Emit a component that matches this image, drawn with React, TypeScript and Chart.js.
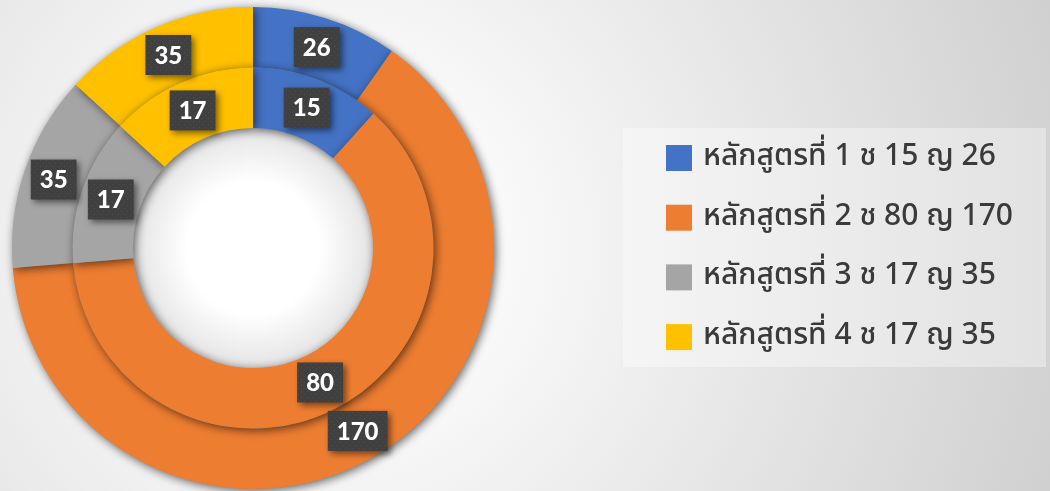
import { useEffect, useRef } from 'react';
import { Chart, registerables } from 'chart.js';

Chart.register(...registerables);

const categories = [
  'หลักสูตรที่ 1 ช 15 ญ 26',
  'หลักสูตรที่ 2 ช 80 ญ 170',
  'หลักสูตรที่ 3 ช 17 ญ 35',
  'หลักสูตรที่ 4 ช 17 ญ 35',
];
const femaleValues = [26, 170, 35, 35];
const maleValues = [15, 80, 17, 17];
const colors = ['#4472C4', '#ED7D31', '#A5A5A5', '#FFC000'];

const LEGEND_FONT = '"Noto Sans Thai", "Noto Sans", "DejaVu Sans", sans-serif';
const LABEL_FONT = 'Lato, "Open Sans", "Noto Sans", sans-serif';

function makePattern(ctx: CanvasRenderingContext2D) {
  const c = document.createElement('canvas');
  c.width = 6;
  c.height = 6;
  const p = c.getContext('2d')!;
  p.fillStyle = '#404040';
  p.fillRect(0, 0, 6, 6);
  p.fillStyle = '#4d4d4d';
  p.fillRect(1, 1, 1, 1);
  p.fillRect(4, 4, 1, 1);
  return ctx.createPattern(c, 'repeat');
}

const backgroundPlugin = {
  id: 'bgPlugin',
  beforeDraw(chart: any) {
    const { ctx, width, height } = chart;
    ctx.save();
    const g = ctx.createRadialGradient(330, 245, 90, 330, 245, 760);
    g.addColorStop(0, '#ffffff');
    g.addColorStop(1, '#d0d0d0');
    ctx.fillStyle = g;
    ctx.fillRect(0, 0, width, height);
    const meta = chart.getDatasetMeta(1);
    const arc: any = meta.data[0];
    if (arc) {
      const r = arc.innerRadius;
      const hg = ctx.createRadialGradient(arc.x, arc.y, r * 0.55, arc.x, arc.y, r);
      hg.addColorStop(0, '#ffffff');
      hg.addColorStop(1, '#e4e4e4');
      ctx.fillStyle = hg;
      ctx.beginPath();
      ctx.arc(arc.x, arc.y, r, 0, Math.PI * 2);
      ctx.fill();
    }
    ctx.restore();
  },
};

const shadowPlugin = {
  id: 'shadowPlugin',
  beforeDatasetDraw(chart: any) {
    const ctx = chart.ctx;
    ctx.save();
    ctx.shadowColor = 'rgba(0,0,0,0.6)';
    ctx.shadowBlur = 10;
    ctx.shadowOffsetX = 2;
    ctx.shadowOffsetY = 2;
  },
  afterDatasetDraw(chart: any) {
    chart.ctx.restore();
  },
};

const labelPlugin = {
  id: 'labelPlugin',
  afterDatasetsDraw(chart: any) {
    const ctx = chart.ctx;
    const pattern = makePattern(ctx);
    chart.data.datasets.forEach((ds: any, di: number) => {
      const meta = chart.getDatasetMeta(di);
      meta.data.forEach((arc: any, i: number) => {
        const { x, y } = arc.tooltipPosition();
        const text = String(ds.data[i]);
        ctx.save();
        ctx.font = `900 24px ${LABEL_FONT}`;
        const w = ctx.measureText(text).width + 18;
        const h = 40;
        ctx.shadowColor = 'rgba(0,0,0,0.5)';
        ctx.shadowBlur = 6;
        ctx.shadowOffsetX = 3;
        ctx.shadowOffsetY = 3;
        ctx.fillStyle = pattern || '#404040';
        ctx.fillRect(x - w / 2, y - h / 2, w, h);
        ctx.restore();
        ctx.save();
        ctx.font = `900 24px ${LABEL_FONT}`;
        ctx.fillStyle = '#ffffff';
        ctx.textAlign = 'center';
        ctx.textBaseline = 'middle';
        ctx.fillText(text, x, y + 1);
        ctx.restore();
      });
    });
  },
};

const legendPlugin = {
  id: 'legendBoxPlugin',
  afterDraw(chart: any) {
    const ctx = chart.ctx;
    const bx = 623, by = 128, bw = 423, bh = 239;
    ctx.save();
    const g = ctx.createLinearGradient(bx, 0, bx + bw, 0);
    g.addColorStop(0, '#f5f5f5');
    g.addColorStop(1, '#e2e2e2');
    ctx.fillStyle = g;
    ctx.fillRect(bx, by, bw, bh);
    const labels = chart.data.labels as string[];
    const bg = chart.data.datasets[0].backgroundColor as string[];
    labels.forEach((lab, i) => {
      const cy = 158 + i * 59.7;
      ctx.fillStyle = bg[i];
      ctx.fillRect(666, cy - 13, 26, 26);
      ctx.fillStyle = '#3a3a3a';
      ctx.font = `500 30px ${LEGEND_FONT}`;
      ctx.textAlign = 'left';
      ctx.textBaseline = 'middle';
      ctx.fillText(lab, 703, cy + 1);
    });
    ctx.restore();
  },
};

export default function App() {
  const ref = useRef<HTMLCanvasElement>(null);
  useEffect(() => {
    if (!ref.current) return;
    const chart = new Chart(ref.current, {
      type: 'doughnut',
      data: {
        labels: categories,
        datasets: [
          {
            label: 'ญ',
            data: femaleValues,
            backgroundColor: colors,
            borderWidth: 0,
            order: 1,
          },
          {
            label: 'ช',
            data: maleValues,
            backgroundColor: colors,
            borderWidth: 0,
            order: 0,
          },
        ],
      },
      options: {
        animation: false,
        responsive: true,
        maintainAspectRatio: false,
        cutout: '49.8%',
        layout: { padding: { left: 12, top: 7, right: 556, bottom: 2 } },
        plugins: {
          legend: { display: false },
          tooltip: { enabled: false },
        },
      },
      plugins: [backgroundPlugin, shadowPlugin, labelPlugin, legendPlugin],
    });
    return () => chart.destroy();
  }, []);
  return (
    <div style={{ position: 'fixed', left: 0, top: 0, width: 1050, height: 491 }}>
      <canvas ref={ref} />
    </div>
  );
}
